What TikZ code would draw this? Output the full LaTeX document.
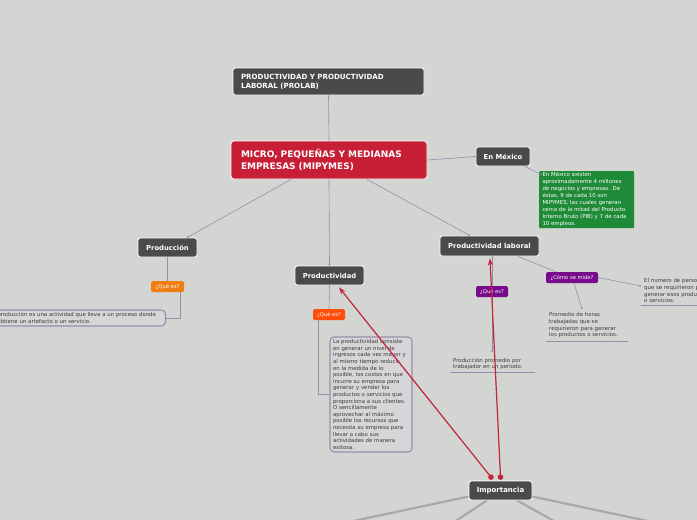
\documentclass[tikz,border=0pt]{standalone}
\usepackage{fontspec}
\setmainfont{DejaVu Sans}
\usetikzlibrary{arrows.meta,calc}
\definecolor{bg}{HTML}{D3D5D2}
\definecolor{darkbox}{HTML}{4B4A48}
\definecolor{mainred}{HTML}{C61F36}
\definecolor{greenbox}{HTML}{1F8A37}
\definecolor{orangebox}{HTML}{F07D10}
\definecolor{orangered}{HTML}{FF4D0A}
\definecolor{purplebox}{HTML}{780A8C}
\definecolor{connc}{HTML}{9A8CAB}
\definecolor{redline}{HTML}{C8213A}
\definecolor{grayline}{HTML}{A9A9A9}
\definecolor{txt}{HTML}{3C3C3C}
\definecolor{boxfill}{HTML}{D6D5D7}
\tikzset{
  darkbox/.style={draw=white, line width=0.8pt, fill=darkbox, rounded corners=2.5pt,
    text=white, inner sep=0pt, font=\fontsize{6.8}{8}\selectfont\bfseries},
  qbox/.style={rounded corners=1.5pt, text=white, inner sep=0pt, minimum height=11pt,
    font=\fontsize{5.2}{6}\selectfont},
  smalltxt/.style={text=txt, font=\fontsize{5.4}{6.6}\selectfont, align=left},
  conn/.style={draw=connc, line width=0.6pt, -{Circle[length=1.8pt,fill=darkbox!80]}},
  plainconn/.style={draw=connc, line width=0.6pt},
  uline/.style={draw=connc, line width=0.8pt},
  redarrow/.style={draw=redline, line width=1.2pt, -{Stealth[length=7pt,width=5pt]}},
  gline/.style={draw=grayline, line width=2.2pt}
}
\begin{document}
\begin{tikzpicture}[x=1pt,y=-1pt]
\useasboundingbox (0,0) rectangle (697,520);
\clip (0,0) rectangle (697,520);
\fill[bg] (0,0) rectangle (697,520);

% Importancia box and gray lines
\node[darkbox, minimum width=63pt, minimum height=19pt, font=\fontsize{7}{8}\selectfont\bfseries] (imp) at (500.5,490.5) {Importancia};
\coordinate (g1) at (325,527);
\coordinate (g2) at (448,526);
\coordinate (g3) at (563,526);
\coordinate (g4) at (676,527);
\draw[gline] ([xshift=0pt,yshift=-6pt]imp.west) -- (g1);
\draw[gline] ([xshift=-13.5pt]imp.south) -- (g2);
\draw[gline] ([xshift=16.5pt]imp.south) -- (g3);
\draw[gline] ([xshift=0pt,yshift=-6pt]imp.east) -- (g4);
\node[darkbox, minimum width=63pt, minimum height=19pt, font=\fontsize{7}{8}\selectfont\bfseries] at (imp) {Importancia};

% main boxes
\node[darkbox, minimum width=191pt, minimum height=27pt, text width=175pt, align=left,
  font=\fontsize{7.1}{9.3}\selectfont\bfseries] (prolab) at (328.5,81.5)
  {PRODUCTIVIDAD Y PRODUCTIVIDAD\\LABORAL (PROLAB)};
\node[draw=white, line width=0.8pt, fill=mainred, rounded corners=3pt, text=white,
  inner sep=0pt, minimum width=196pt, minimum height=38pt, text width=176pt, align=left,
  font=\fontsize{9}{11.5}\selectfont\bfseries] (mip) at (329,160)
  {MICRO, PEQUEÑAS Y MEDIANAS\\EMPRESAS (MIPYMES)};
\node[darkbox, minimum width=54pt, minimum height=19pt] (mexico) at (503,156.5) {En México};
\node[fill=greenbox, rounded corners=1pt, text=white, inner xsep=3.5pt, inner ysep=0pt,
  minimum height=57pt, text width=88pt, align=left,
  font=\fontsize{5.4}{6.9}\selectfont] (green) at (586.5,199.5)
  {En México existen\\aproximadamente 4 millones\\de negocios y empresas. De\\éstas, 9 de cada 10 son\\MIPYMES, las cuales generan\\cerca de la mitad del Producto\\Interno Bruto (PIB) y 7 de cada\\10 empleos.};

\node[darkbox, minimum width=59pt, minimum height=19pt] (prodn) at (167.5,247.5) {Producción};
\node[qbox, fill=orangebox, minimum width=33pt] (qe1) at (167.5,286.5) {¿Qué es?};
\node[smalltxt, draw=connc, line width=1.1pt, fill=boxfill, rounded corners=4pt,
  inner xsep=8pt, inner ysep=2.5pt, text width=168pt, anchor=east] (ptxt) at (166,318)
  {La producción es una actividad que lleva a un proceso donde\\se obtiene un artefacto o un servicio.};

\node[darkbox, minimum width=69pt, minimum height=19pt] (prodv) at (329.5,275.5) {Productividad};
\node[qbox, fill=orangered, minimum width=32pt] (qe2) at (329,314.5) {¿Qué es?};
\node[smalltxt, draw=connc, line width=1.1pt, fill=boxfill, rounded corners=4pt,
  inner xsep=3pt, inner ysep=0pt, text width=76pt, minimum height=115pt] (pvtxt) at (371,394.5)
  {La productividad consiste\\en generar un nivel de\\ingresos cada vez mayor y\\al mismo tiempo reducir,\\en la medida de lo\\posible, los costos en que\\incurre su empresa para\\generar y vender los\\productos o servicios que\\proporciona a sus clientes.\\O sencillamente\\aprovechar al máximo\\posible los recursos que\\necesita su empresa para\\llevar a cabo sus\\actividades de manera\\exitosa.};

\node[darkbox, minimum width=99pt, minimum height=20pt] (plab) at (489.5,246) {Productividad laboral};
\node[qbox, fill=purplebox, minimum width=52pt] (como) at (572,277.5) {¿Cómo se mide?};
\node[qbox, fill=purplebox, minimum width=32pt] (qe3) at (492,291.5) {¿Qué es?};

\node[smalltxt, inner xsep=3pt, inner ysep=2pt, text width=110pt, anchor=south west] (t1) at (641,305)
  {El numero de personas\\que se requirieron para\\generar esos productos\\o servicios.};
\node[smalltxt, inner xsep=3pt, inner ysep=3pt, text width=76pt, anchor=south west] (t2) at (546,341)
  {Promedio de horas\\trabajadas que se\\requirieron para generar\\los productos o servicios.};
\node[smalltxt, inner xsep=3pt, inner ysep=2.5pt, text width=79pt, anchor=south west] (t3) at (450,372.5)
  {Producción promedio por\\trabajador en un periodo.};
\draw[uline] (t1.south west) -- (t1.south east);
\draw[uline] (t2.south west) -- (t2.south east);
\draw[uline] (t3.south west) -- (t3.south east);

% connectors
\coordinate (e1) at (641,286);
\coordinate (e2) at (582,309);
\coordinate (e3) at (492,352);
\draw[conn] (mip.north) -- (prolab.south);
\draw[conn] (mip.east) -- (mexico.west);
\draw[conn] ([xshift=22pt]mexico.south) -- ([xshift=-45pt,yshift=-4pt]green.north);
\draw[conn] ([xshift=-38pt]mip.south) -- ([xshift=19.5pt]prodn.north);
\draw[conn] (mip.south) -- (prodv.north);
\draw[conn] ([xshift=38pt]mip.south) -- ([xshift=-19.5pt]plab.north);
\draw[plainconn] (prodn.south) -- (qe1.north);
\draw[plainconn] ([xshift=12.5pt]qe1.south) |- (ptxt.east);
\draw[plainconn] (prodv.south) -- (qe2.north);
\draw[plainconn] ([xshift=-11pt]qe2.south) |- (pvtxt.west);
\draw[plainconn] ([xshift=28.5pt]plab.south) -- ([xshift=-16pt]como.north);
\draw[conn] (como.east) -- (e1);
\draw[conn] ([xshift=2pt]como.south) -- (e2);
\draw[plainconn] ([xshift=2.5pt]plab.south) -- (qe3.north);
\draw[conn] (qe3.south) -- (e3);

% red arrows
\coordinate (r1) at ([xshift=-9.5pt,yshift=3.5pt]imp.north);
\coordinate (r2) at ([xshift=0pt,yshift=3.5pt]imp.north);
\draw[redarrow] (r1) -- ([xshift=9.5pt,yshift=-2pt]prodv.south);
\draw[redarrow] (r2) -- ([xshift=0.5pt,yshift=-2pt]plab.south);
\fill[redline] (r1) circle (2.8pt);
\fill[redline] (r2) circle (2.8pt);
\end{tikzpicture}
\end{document}
